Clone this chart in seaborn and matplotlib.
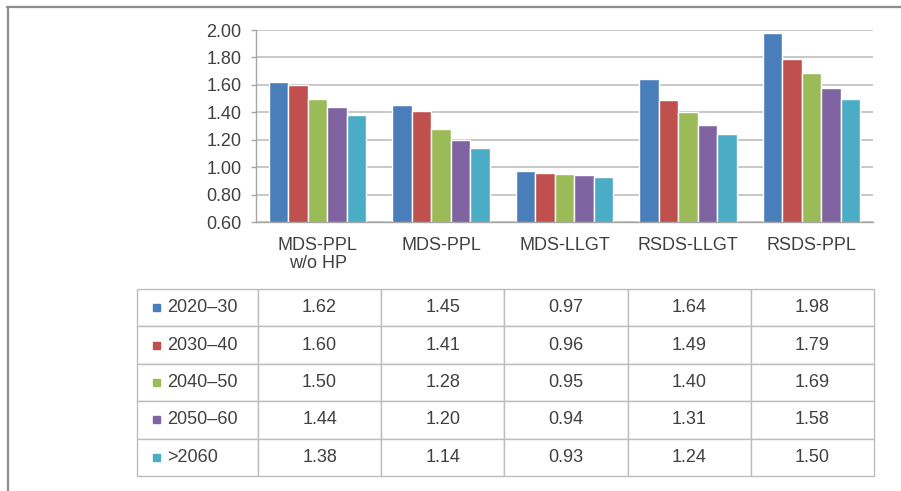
import pandas as pd
import numpy as np
import seaborn as sns
import matplotlib.pyplot as plt
from matplotlib.lines import Line2D
from matplotlib.patches import Rectangle

scenarios = ['MDS-PPL\nw/o HP', 'MDS-PPL', 'MDS-LLGT', 'RSDS-LLGT', 'RSDS-PPL']
periods = ['2020–30', '2030–40', '2040–50', '2050–60', '>2060']
v_2020 = [1.62, 1.45, 0.97, 1.64, 1.98]
v_2030 = [1.60, 1.41, 0.96, 1.49, 1.79]
v_2040 = [1.50, 1.28, 0.95, 1.40, 1.69]
v_2050 = [1.44, 1.20, 0.94, 1.31, 1.58]
v_2060 = [1.38, 1.14, 0.93, 1.24, 1.50]
y_ticks = [0.60, 0.80, 1.00, 1.20, 1.40, 1.60, 1.80, 2.00]
colors = ['#4A7EBB', '#C0504D', '#9BBB59', '#8064A2', '#4BACC6']

series = [v_2020, v_2030, v_2040, v_2050, v_2060]
rows = []
for p, vals in zip(periods, series):
    for s, v in zip(scenarios, vals):
        rows.append({'scenario': s, 'period': p, 'value': v})
df = pd.DataFrame(rows)

sns.set_style('white')
plt.rcParams['font.family'] = ['Liberation Sans', 'DejaVu Sans']
text_col = '#404040'
grid_col = '#c4c4c4'
fs = 13

fig = plt.figure(figsize=(9.01, 4.91), dpi=100)
W, H = 901, 491

# Outer frame (clipped at right and bottom like the screenshot)
fig.add_artist(Line2D([7 / W, 1], [1 - 7 / H, 1 - 7 / H], color='#8c8c8c', lw=1.6))
fig.add_artist(Line2D([8 / W, 8 / W], [0, 1 - 7 / H], color='#8c8c8c', lw=1.6))

# Bar chart
ax = fig.add_axes([256 / W, 1 - 222 / H, 617 / W, 192 / H])
sns.barplot(data=df, x='scenario', y='value', hue='period', palette=colors,
            width=0.79, saturation=1, ax=ax, legend=False)
ax.set_ylim(0.6, 2.0)
ax.set_xlim(-0.5, len(scenarios) - 0.5)
ax.set_yticks(y_ticks)
ax.set_yticklabels([f'{t:.2f}' for t in y_ticks])
ax.set_xlabel('')
ax.set_ylabel('')
ax.set_axisbelow(True)
ax.yaxis.grid(True, color=grid_col, lw=1.3)
for side in ['top', 'right']:
    ax.spines[side].set_visible(False)
ax.spines['left'].set_color('#a6a6a6')
ax.spines['bottom'].set_color('#a6a6a6')
ax.spines['left'].set_linewidth(1.0)
ax.spines['bottom'].set_linewidth(1.0)
ax.tick_params(axis='y', direction='out', length=3.6, width=1, color='#a6a6a6',
               labelsize=fs, labelcolor=text_col, pad=7, left=True)
ax.tick_params(axis='x', length=0, labelsize=fs, labelcolor=text_col, pad=11)
for lbl in ax.get_xticklabels():
    lbl.set_linespacing(1.05)

# Data table below
tax = fig.add_axes([137 / W, 1 - 476 / H, 737 / W, 187 / H])
tax.axis('off')
cell_text = [[p] + [f'{v:.2f}' for v in vals] for p, vals in zip(periods, series)]
first_w = 121 / 737
other_w = (1 - first_w) / len(scenarios)
tbl = tax.table(cellText=cell_text, colWidths=[first_w] + [other_w] * len(scenarios),
                bbox=[0, 0, 1, 1], cellLoc='center')
tbl.auto_set_font_size(False)
tbl.set_fontsize(fs)
for (r, c), cell in tbl.get_celld().items():
    cell.set_edgecolor('#bdbdbd')
    cell.set_linewidth(1.0)
    cell.get_text().set_color(text_col)
    if c == 0:
        cell.get_text().set_ha('left')
        cell._loc = 'left'
        cell.PAD = 0.25

# Legend keys in the first column
n = len(periods)
for i, col in enumerate(colors):
    yc = 1 - (i + 0.5) / n
    tax.add_patch(Rectangle((16 / 737, yc - 3.5 / 187), 7 / 737, 7 / 187,
                            color=col, transform=tax.transAxes, clip_on=False))

fig.savefig('out.png', dpi=100)
